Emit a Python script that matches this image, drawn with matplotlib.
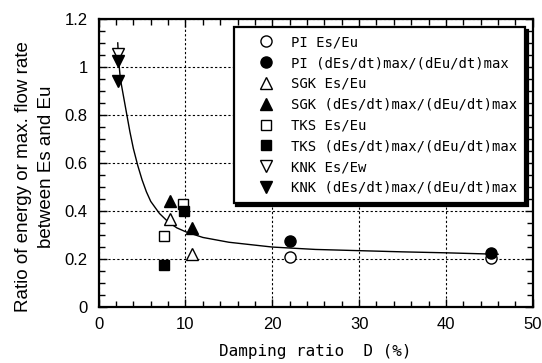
import matplotlib.pyplot as plt
from matplotlib.ticker import MultipleLocator

# --- data ---
pi_es_x = [22.0, 45.2]
pi_es_y = [0.21, 0.205]
pi_rate_x = [22.0, 45.2]
pi_rate_y = [0.275, 0.225]

sgk_es_x = [8.2, 10.7]
sgk_es_y = [0.365, 0.22]
sgk_rate_x = [8.2, 10.7]
sgk_rate_y = [0.44, 0.33]

tks_es_x = [7.5, 9.7]
tks_es_y = [0.295, 0.43]
tks_rate_x = [7.5, 9.8]
tks_rate_y = [0.175, 0.40]

knk_es_x = [2.2]
knk_es_y = [1.055]
knk_rate_x = [2.2, 2.2]
knk_rate_y = [1.025, 0.94]

# fitted curve
fit_x = [2.2, 2.3, 2.45, 2.6, 2.9, 3.2, 3.6, 4.0, 4.5, 5.0, 5.5, 6.0, 7.0, 8.0,
         9.0, 10.0, 12.0, 15.0, 20.0, 25.0, 30.0, 35.0, 40.0, 46.0]
fit_y = [1.10, 1.03, 0.97, 0.93, 0.87, 0.81, 0.73, 0.66, 0.59, 0.53, 0.48, 0.44,
         0.39, 0.355, 0.33, 0.314, 0.29, 0.27, 0.25, 0.24, 0.235, 0.23, 0.226, 0.22]

plt.rcParams['font.family'] = 'Liberation Sans'
mono = 'DejaVu Sans Mono'

fig = plt.figure(figsize=(5.42, 3.63), dpi=100)
ax = fig.add_axes([0.182, 0.154, 0.801, 0.794])

ax.plot(fit_x, fit_y, color='black', lw=1)

ms = 8
ax.plot(pi_es_x, pi_es_y, 'o', mfc='white', mec='black', ms=ms, label='PI Es/Eu')
ax.plot(pi_rate_x, pi_rate_y, 'o', color='black', ms=ms, label='PI (dEs/dt)max/(dEu/dt)max')
ax.plot(sgk_es_x, sgk_es_y, '^', mfc='white', mec='black', ms=ms, label='SGK Es/Eu')
ax.plot(sgk_rate_x, sgk_rate_y, '^', color='black', ms=ms, label='SGK (dEs/dt)max/(dEu/dt)max')
ax.plot(tks_es_x, tks_es_y, 's', mfc='white', mec='black', ms=ms - 1, label='TKS Es/Eu')
ax.plot(tks_rate_x, tks_rate_y, 's', color='black', ms=ms - 1, label='TKS (dEs/dt)max/(dEu/dt)max')
ax.plot(knk_es_x, knk_es_y, 'v', mfc='white', mec='black', ms=ms, label='KNK Es/Ew')
ax.plot(knk_rate_x, knk_rate_y, 'v', color='black', ms=ms, label='KNK (dEs/dt)max/(dEu/dt)max')

ax.set_xlim(0, 50)
ax.set_ylim(0, 1.2)
ax.xaxis.set_major_locator(MultipleLocator(10))
ax.xaxis.set_minor_locator(MultipleLocator(2))
ax.yaxis.set_minor_locator(MultipleLocator(0.05))
ax.set_yticks([0, 0.2, 0.4, 0.6, 0.8, 1.0, 1.2])
ax.set_yticklabels(['0', '0.2', '0.4', '0.6', '0.8', '1', '1.2'])
ax.tick_params(which='both', direction='in', top=True, right=True, labelsize=12, width=1)
ax.tick_params(which='major', length=6)
ax.tick_params(which='minor', length=4)
ax.tick_params(axis='y', pad=8)
ax.tick_params(axis='x', pad=7)
ax.grid(True, which='major', color='black', ls=(0, (2, 2)), lw=0.8)
for s in ax.spines.values():
    s.set_linewidth(1.6)

ax.set_xlabel('Damping ratio  D (%)', family=mono, fontsize=11.5, labelpad=9)

# two-line y label, placed line by line
fig.text(32 / 542, 1 - 177 / 363, 'Ratio of energy or max. flow rate', rotation=90,
         ha='right', va='center', fontsize=13.5)
fig.text(55 / 542, 1 - 167 / 363, 'between Es and Eu', rotation=90,
         ha='right', va='center', fontsize=13.5)

leg = ax.legend(loc='upper right', bbox_to_anchor=(0.982, 0.972), borderaxespad=0,
                prop={'family': mono, 'size': 10}, fancybox=False, framealpha=1,
                edgecolor='black', handletextpad=0.1, labelspacing=0.49,
                handlelength=3.4, borderpad=0.6,
                shadow={'color': 'black', 'alpha': 1})
leg.get_frame().set_linewidth(1.6)

fig.savefig('out.png', dpi=100)
